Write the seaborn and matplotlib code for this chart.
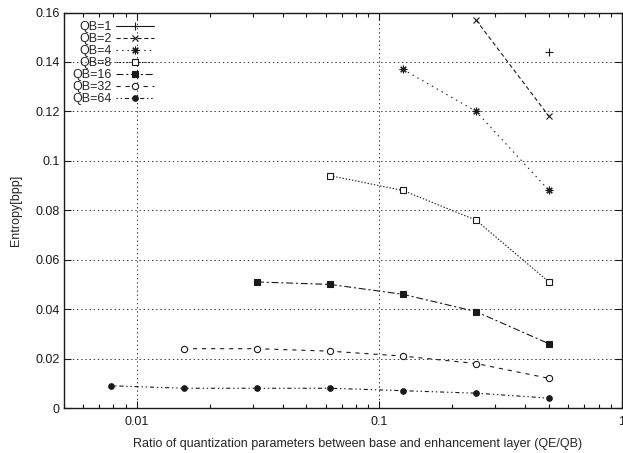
import matplotlib
matplotlib.use("Agg")
import matplotlib.pyplot as plt
import matplotlib.ticker as mticker
import pandas as pd
import seaborn as sns

# ratio QE/QB on the x axis, entropy [bpp] on the y axis
ratio = [1 / 128, 1 / 64, 1 / 32, 1 / 16, 1 / 8, 1 / 4, 1 / 2]

qb_labels = ["QB=1", "QB=2", "QB=4", "QB=8", "QB=16", "QB=32", "QB=64"]
qb1 = [0.144]
qb2 = [0.157, 0.118]
qb4 = [0.137, 0.120, 0.088]
qb8 = [0.094, 0.088, 0.076, 0.051]
qb16 = [0.051, 0.050, 0.046, 0.039, 0.026]
qb32 = [0.024, 0.024, 0.023, 0.021, 0.018, 0.012]
qb64 = [0.009, 0.008, 0.008, 0.008, 0.007, 0.006, 0.004]
series = [qb1, qb2, qb4, qb8, qb16, qb32, qb64]

# gnuplot-like point and dash types
markers = ["+", "x", (8, 2, 0), "s", "s", "o", "o"]
faces = ["k", "k", "k", "white", "k", "white", "k"]
msizes = [6, 5, 5.5, 4.5, 4.5, 4.5, 4]
dashes = [
    "-",
    (0, (3, 2)),
    (0, (1, 3)),
    (0, (1, 1.3)),
    (0, (5, 2, 1.5, 2)),
    (0, (3, 3.5)),
    (0, (1, 2, 1, 2, 3, 2)),
]

sns.set_theme(style="ticks")
plt.rcParams["font.family"] = ["Liberation Sans", "DejaVu Sans"]
plt.rcParams["lines.scale_dashes"] = False

fig = plt.figure(figsize=(6.23, 4.53), dpi=100)
ax = fig.add_axes([0.1027, 0.0993, 0.8957, 0.8731])

for lab, vals, mk, fc, ms, ls in zip(qb_labels, series, markers, faces, msizes, dashes):
    df = pd.DataFrame({"ratio": ratio[-len(vals):], "entropy": vals})
    sns.lineplot(
        data=df, x="ratio", y="entropy", ax=ax, color="k", linewidth=0.8,
        linestyle=ls, marker=mk, markersize=ms, markerfacecolor=fc,
        markeredgecolor="k", markeredgewidth=0.8, label=lab,
    )

ax.set_xscale("log")
ax.set_xlim(0.005, 1.0)
ax.set_ylim(0, 0.16)
ax.set_xticks([0.01, 0.1, 1])
ax.xaxis.set_major_formatter(mticker.FuncFormatter(lambda v, p: f"{v:g}"))
ax.set_yticks([0, 0.02, 0.04, 0.06, 0.08, 0.1, 0.12, 0.14, 0.16])
ax.yaxis.set_major_formatter(mticker.FuncFormatter(lambda v, p: f"{v:g}"))

ax.grid(True, which="major", color="k", linestyle=(0, (1, 2)), linewidth=0.6)
ax.tick_params(which="both", direction="in", top=True, right=True,
               labelsize=9, colors="k", width=0.8)
ax.tick_params(which="major", length=5)
ax.tick_params(which="minor", length=3)
ax.tick_params(axis="x", pad=6)
ax.tick_params(axis="y", pad=3)
for sp in ax.spines.values():
    sp.set_linewidth(1.0)
    sp.set_color("k")

ax.set_xlabel("Ratio of quantization parameters between base and enhancement layer (QE/QB)",
              fontsize=9)
ax.xaxis.set_label_coords(0.527, -0.075)
ax.set_ylabel("Entropy[bpp]", fontsize=9)
ax.yaxis.set_label_coords(-0.075, 0.5)

ax.legend(loc="upper left", markerfirst=False, frameon=False, fontsize=9,
          handlelength=3.0, handletextpad=0.35, labelspacing=0.0,
          borderaxespad=0.5, borderpad=0.2)

fig.savefig("out.png", dpi=100)
